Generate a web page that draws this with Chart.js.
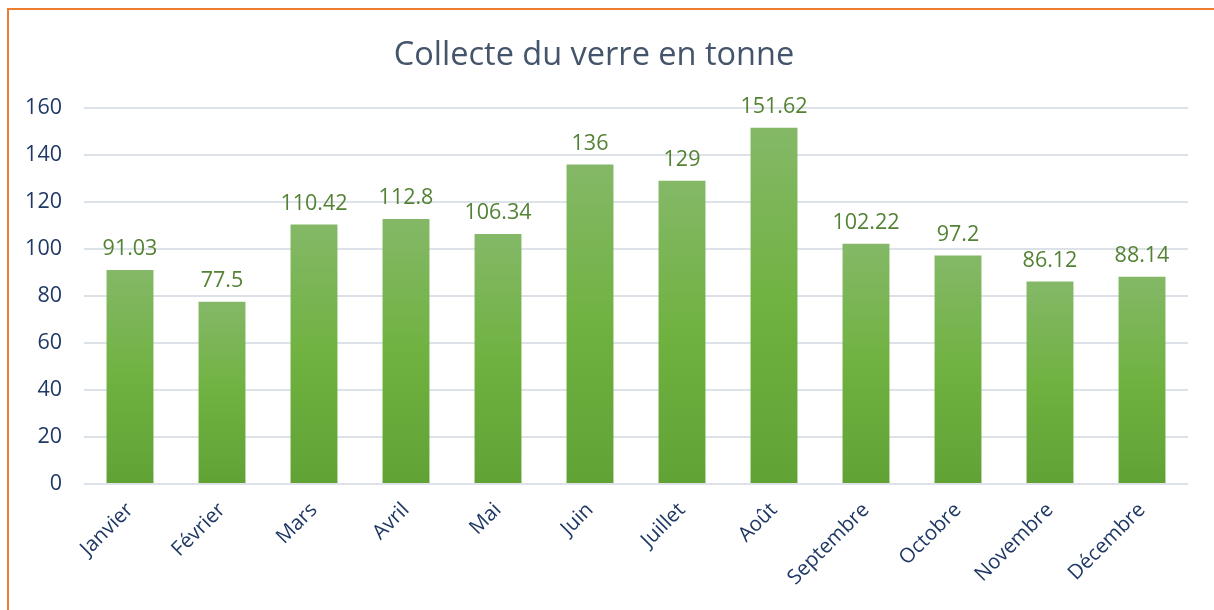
<!DOCTYPE html>
<html>
<head>
<meta charset="utf-8">
<script src="https://cdn.jsdelivr.net/npm/chart.js@4.4.1/dist/chart.umd.min.js"></script>
<style>
  html, body { margin: 0; padding: 0; background: #fff; }
  #frame { position: absolute; left: 7px; top: 8px; width: 1220px; height: 620px;
           border-left: 2px solid #ED7D31; border-top: 2px solid #ED7D31; }
  #wrap { position: absolute; left: 0; top: 0; width: 1214px; height: 610px; }
</style>
</head>
<body>
<div id="frame"></div>
<div id="wrap"><canvas id="verre"></canvas></div>
<script>
// valeurs
var mois = ['Janvier','Février','Mars','Avril','Mai','Juin','Juillet','Août','Septembre','Octobre','Novembre','Décembre'];
var tonnes = [91.03, 77.5, 110.42, 112.8, 106.34, 136, 129, 151.62, 102.22, 97.2, 86.12, 88.14];
var yMax = 160;
var yStep = 20;

var labelsPlugin = {
  id: 'etiquettes',
  afterDatasetsDraw: function(chart) {
    var c = chart.ctx;
    var meta = chart.getDatasetMeta(0);
    c.save();
    c.font = '21.5px "Open Sans", sans-serif';
    c.fillStyle = '#548235';
    c.textAlign = 'center';
    c.textBaseline = 'bottom';
    meta.data.forEach(function(bar, i) {
      c.fillText(String(tonnes[i]), bar.x, bar.y - 10);
    });
    c.restore();
  }
};

var ctx = document.getElementById('verre');
var chart = new Chart(ctx, {
  type: 'bar',
  data: {
    labels: mois,
    datasets: [{
      label: 'Tonnes',
      data: tonnes,
      backgroundColor: function(context) {
        var ch = context.chart;
        if (!ch.chartArea || !ch.scales.y) return '#6FB142';
        var v = context.raw;
        var top = ch.scales.y.getPixelForValue(v);
        var bottom = ch.scales.y.getPixelForValue(0);
        if (!isFinite(top) || !isFinite(bottom) || bottom - top < 1) return '#6FB142';
        var g = ch.ctx.createLinearGradient(0, top, 0, bottom);
        g.addColorStop(0, '#84B867');
        g.addColorStop(0.5, '#70B241');
        g.addColorStop(1, '#60A234');
        return g;
      },
      borderWidth: 0,
      barPercentage: 0.51,
      categoryPercentage: 1
    }]
  },
  options: {
    responsive: true,
    maintainAspectRatio: false,
    animation: false,
    layout: { padding: { left: 0, right: 26, top: 36, bottom: 14 } },
    plugins: {
      legend: { display: false },
      tooltip: { enabled: false },
      title: {
        display: true,
        text: 'Collecte du verre en tonne',
        color: '#44546A',
        font: { family: '"Open Sans", sans-serif', size: 32.5, weight: 'normal' },
        padding: { top: 0, bottom: 33 }
      }
    },
    scales: {
      x: {
        grid: { display: false },
        border: { display: false },
        ticks: {
          color: '#1F3864',
          font: { family: '"Open Sans", sans-serif', size: 20.5 },
          maxRotation: 45,
          minRotation: 45,
          padding: 6
        }
      },
      y: {
        min: 0,
        max: yMax,
        afterFit: function(scale) { scale.width = 84; },
        ticks: {
          stepSize: yStep,
          color: '#1F3864',
          font: { family: '"Open Sans", sans-serif', size: 21.5 },
          padding: 22
        },
        grid: { color: '#DDE2E8', lineWidth: 2, drawTicks: false },
        border: { display: false }
      }
    }
  },
  plugins: [labelsPlugin]
});
</script>
</body>
</html>
